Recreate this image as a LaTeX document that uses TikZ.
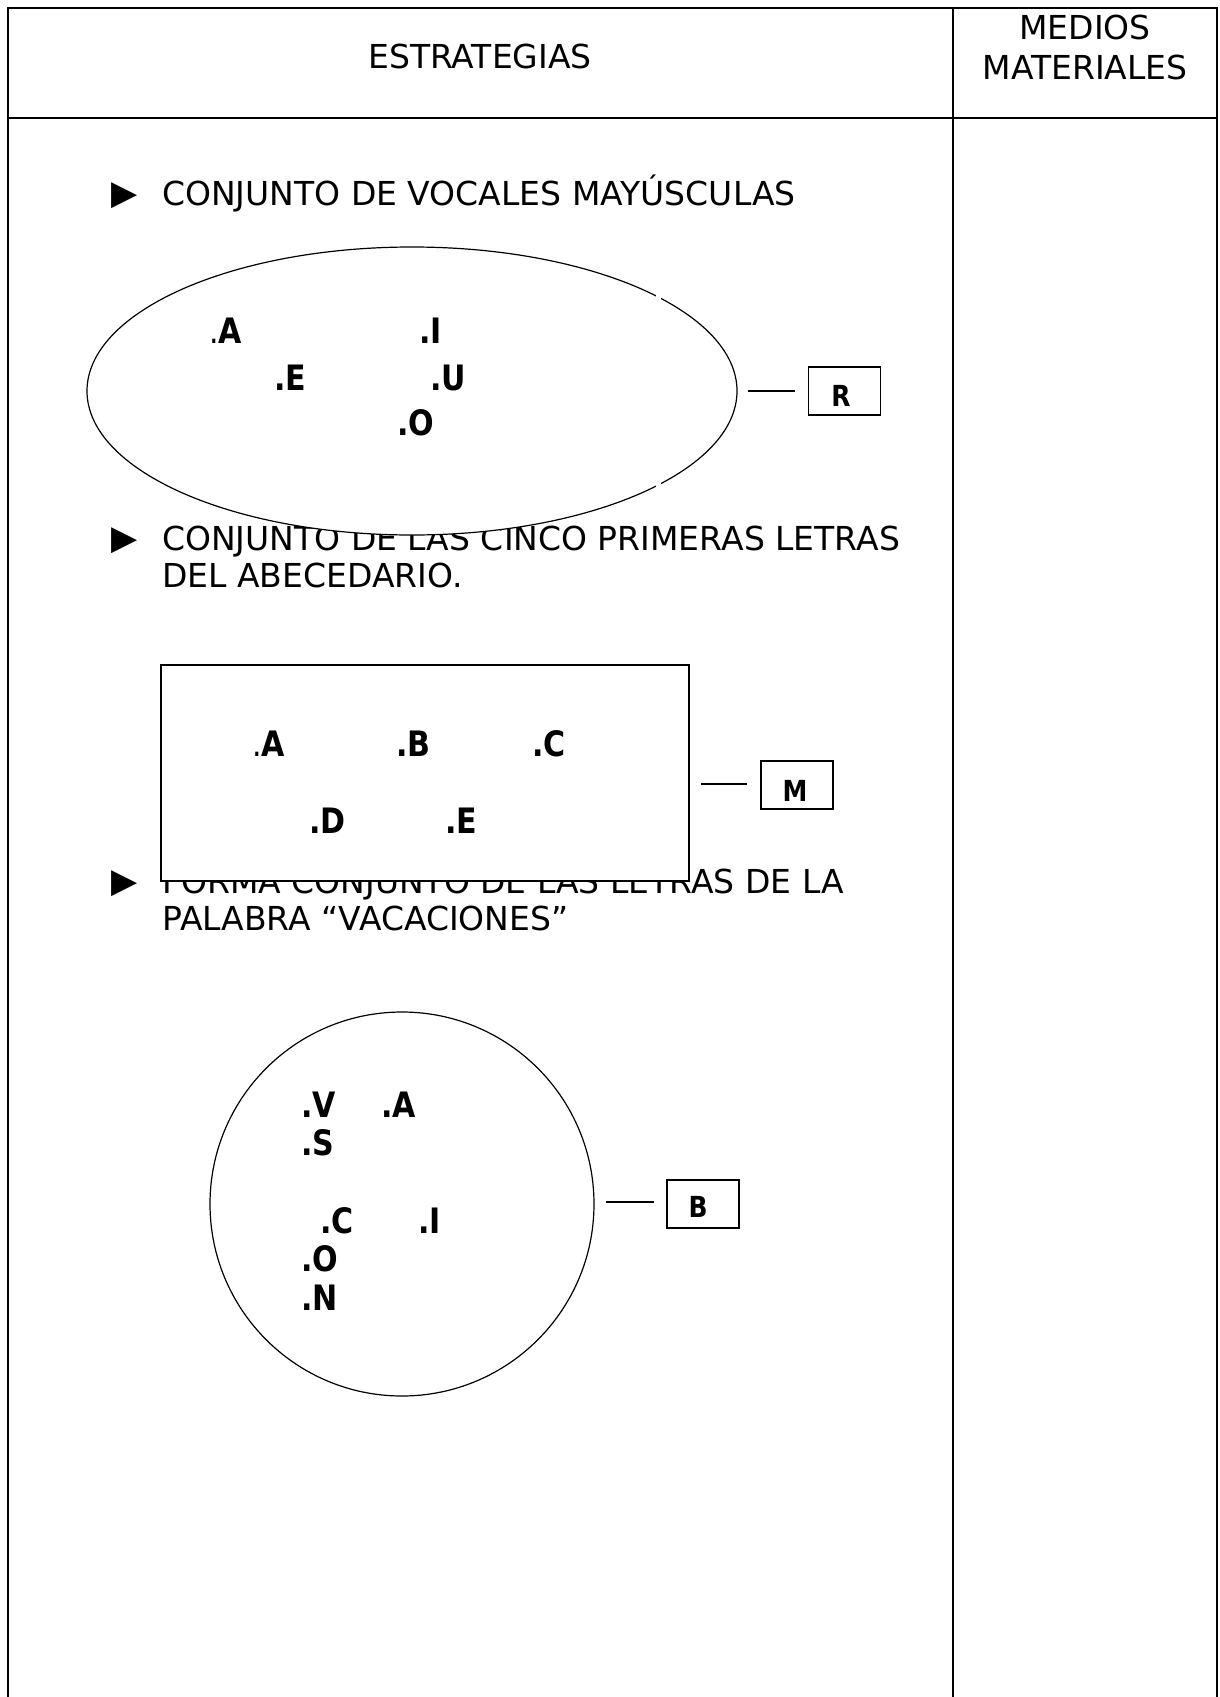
\documentclass[tikz,border=0pt]{standalone}
\usepackage{fontspec}
\setmainfont{DejaVu Sans}
\newfontfamily\condfont[FakeStretch=0.86]{DejaVu Sans}
\usetikzlibrary{shapes.geometric}
\begin{document}
\begin{tikzpicture}[x=1pt,y=-1pt,
  frame/.style={line width=2pt},
  midline/.style={line width=1.6pt},
  txt/.style={anchor=base west,inner sep=0pt,font=\fontsize{33}{38}\selectfont},
  bul/.style={anchor=base west,inner sep=0pt,font=\fontsize{34}{38}\selectfont},
  hdr/.style={anchor=base,inner sep=0pt,font=\fontsize{33}{38}\selectfont},
  let/.style={anchor=base west,inner sep=0pt,font=\condfont\fontsize{35}{40}\selectfont\bfseries},
  setshape/.style={draw,fill=white,line width=1.2pt},
  tagbox/.style={draw,line width=1.4pt,minimum width=72pt,minimum height=48pt,inner sep=0pt},
  taglet/.style={inner sep=0pt,font=\condfont\fontsize{29}{32}\selectfont\bfseries},
  link/.style={line width=1.2pt}]
\useasboundingbox (0,0) rectangle (1219,1697);
\fill[white] (0,0) rectangle (1219,1697);
% table
\draw[frame] (7.5,1697) -- (7.5,8) -- (1217,8) -- (1217,1697);
\draw[frame] (7.5,118) -- (1217,118);
\draw[midline] (953,8) -- (953,1697);
\node[hdr] (h1) at (480,68) {ESTRATEGIAS};
\node[hdr] (h2) at (1085,39) {MEDIOS};
\node[hdr] (h3) at (1085,79) {MATERIALES};
% bullet texts
\node[bul] (b1) at (111,204) {▶};
\node[txt] (t1) at (162,205) {CONJUNTO DE VOCALES MAYÚSCULAS};
\node[bul] (b2) at (111,549) {▶};
\node[txt] (t2a) at (162,550) {CONJUNTO DE LAS CINCO PRIMERAS LETRAS};
\node[txt] (t2b) at (162,587) {DEL ABECEDARIO.};
\node[bul] (b3) at (111,892) {▶};
\node[txt] (t3a) at (162,893) {FORMA CONJUNTO DE LAS LETRAS DE LA};
\node[txt] (t3b) at (162,930) {PALABRA “VACACIONES”};
% ellipse set
\node[setshape,ellipse,minimum width=650pt,minimum height=288pt,inner sep=0pt] (ell) at (412,391) {};
\fill[white] (656,280) rectangle (661,500);
\node[let] (ea) at (209,343) {{\mdseries .}A};
\node[let] (ei) at (419,343) {.I};
\node[let] (ee) at (274,390) {.E};
\node[let] (eu) at (430,390) {.U};
\node[let] (eo) at (397,435) {.O};
\coordinate (l1a) at (748,391);
\coordinate (l1b) at (795,391);
\draw[link] (l1a) -- (l1b);
\node[tagbox] (rbox) at (844.5,391) {};
\node[taglet] (rl) at (841,396) {R};
% rectangle set
\node[setshape,rectangle,minimum width=528pt,minimum height=216pt,inner sep=0pt] (rect) at (425,773) {};
\node[let] (ra) at (252,756) {{\mdseries .}A};
\node[let] (rb) at (396,756) {.B};
\node[let] (rc) at (532,756) {.C};
\node[let] (rd) at (309,833) {.D};
\node[let] (re) at (445,833) {.E};
\coordinate (l2a) at (701,784);
\coordinate (l2b) at (747,784);
\draw[link] (l2a) -- (l2b);
\node[tagbox] (mbox) at (797,785) {};
\node[taglet] (ml) at (795,791) {M};
% circle set
\node[setshape,circle,minimum size=384pt,inner sep=0pt] (circ) at (402,1204) {};
\node[let] (cv) at (301,1117) {.V};
\node[let] (ca) at (381,1117) {.A};
\node[let] (cs) at (301,1155) {.S};
\node[let] (cc) at (320,1233) {.C};
\node[let] (ci) at (418,1233) {.I};
\node[let] (co) at (301,1271) {.O};
\node[let] (cn) at (301,1310) {.N};
\coordinate (l3a) at (606,1202);
\coordinate (l3b) at (654,1202);
\draw[link] (l3a) -- (l3b);
\node[tagbox] (bbox) at (703,1204) {};
\node[taglet] (bl) at (698,1207) {B};
\end{tikzpicture}
\end{document}
